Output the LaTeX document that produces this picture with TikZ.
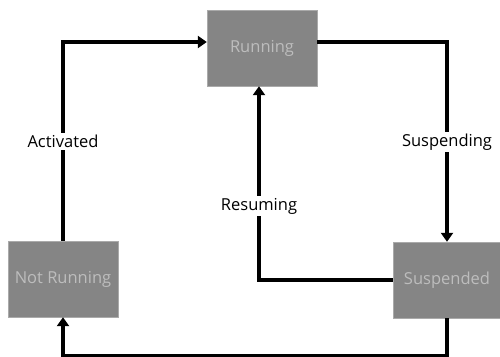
\documentclass[tikz,border=0pt]{standalone}
\usepackage{fontspec}
\setmainfont{Open Sans}
\usetikzlibrary{positioning, arrows.meta}

\definecolor{boxgray}{HTML}{858585}
\definecolor{boxtext}{HTML}{BDBDBD}

\tikzset{
    state/.style={
        draw=boxgray!70,
        fill=boxgray,
        rectangle,
        text=boxtext,
        font=\fontsize{16.5}{18}\selectfont,
        inner sep=0pt,
    },
    trans/.style={line width=3.5pt, -{Triangle[length=9pt, width=12pt]}},
    translabel/.style={fill=white, font=\fontsize{16.5}{18}\selectfont, inner sep=2pt},
}

\begin{document}
\begin{tikzpicture}[x=1pt, y=-1pt]
\useasboundingbox (0,0) rectangle (500,356);

% --- states ---
\node [
    state,
    minimum width=110pt,
    minimum height=76pt,
] (running) at (262,48) {Running};

\node [
    state,
    minimum width=110pt,
    minimum height=76pt,
] (notrunning) at (63,279) {Not Running};

\node [
    state,
    minimum width=108pt,
    minimum height=76pt,
] (suspended) at (447,280) {Suspended};

% --- transitions ---
\draw [trans] (notrunning.north) |- ([yshift=6pt]running.west)
    node[translabel, pos=0.25] {Activated};

\draw [trans] ([yshift=6pt]running.east) -| (suspended.north)
    node[translabel, pos=0.75] {Suspending};

\draw [trans] (suspended.west) -| ([xshift=-3pt]running.south)
    node[translabel, pos=0.69] {Resuming};

\draw [trans] (suspended.south) -- ++(0,38) -| (notrunning.south);

\end{tikzpicture}
\end{document}
